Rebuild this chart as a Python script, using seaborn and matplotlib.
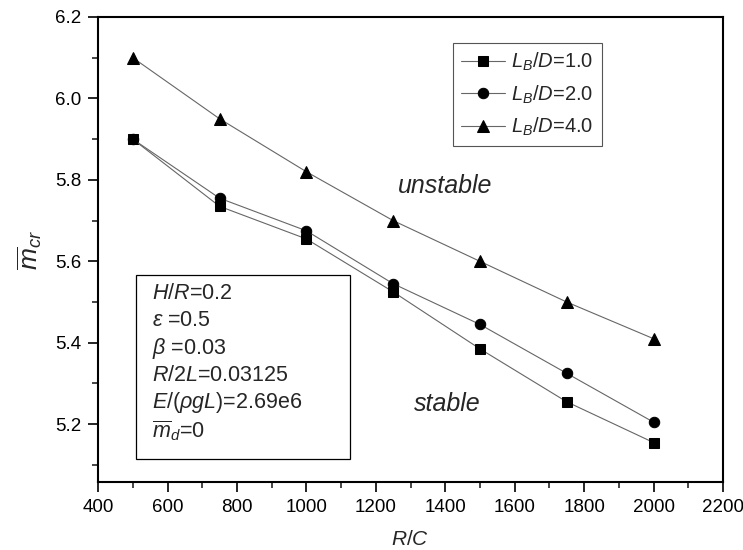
import matplotlib
matplotlib.use("Agg")
import matplotlib.pyplot as plt
import numpy as np
import pandas as pd
import seaborn as sns

# data
rc = [500, 750, 1000, 1250, 1500, 1750, 2000]
m_lb1 = [5.90, 5.735, 5.655, 5.525, 5.385, 5.255, 5.155]
m_lb2 = [5.90, 5.755, 5.675, 5.545, 5.445, 5.325, 5.205]
m_lb4 = [6.10, 5.95, 5.82, 5.70, 5.60, 5.50, 5.41]
labels = [r"$L_B/D$=1.0", r"$L_B/D$=2.0", r"$L_B/D$=4.0"]
markers = ["s", "o", "^"]

params = [r"$H/R$=0.2", r"$\varepsilon$ =0.5", r"$\beta$ =0.03", r"$R/2L$=0.03125",
          r"$E/(\rho gL)$=2.69e6", r"$\overline{m}_{d}$=0"]

sns.set_style("ticks")
plt.rcParams["font.family"] = ["Liberation Sans", "DejaVu Sans"]
plt.rcParams["mathtext.fontset"] = "custom"
plt.rcParams["mathtext.rm"] = "Liberation Sans"
plt.rcParams["mathtext.it"] = "Liberation Sans:italic"
plt.rcParams["mathtext.bf"] = "Liberation Sans:bold"

fig = plt.figure(figsize=(7.43, 5.5), dpi=100)
ax = fig.add_axes([0.132, 0.1236, 0.841, 0.8455])

sizes = {"s": 7, "o": 7.5, "^": 8.5}
for y, lab, mk in zip([m_lb1, m_lb2, m_lb4], labels, markers):
    df = pd.DataFrame({"R/C": rc, "m": y})
    sns.lineplot(data=df, x="R/C", y="m", ax=ax, color="#666666", lw=0.8,
                 marker=mk, markersize=sizes[mk],
                 markerfacecolor="black", markeredgecolor="black", label=lab)

ax.set_xlim(400, 2200)
ax.set_ylim(5.058, 6.2)
ax.set_xticks(np.arange(400, 2201, 200))
ax.set_xticks(np.arange(500, 2200, 200), minor=True)
ax.set_yticks([5.2, 5.4, 5.6, 5.8, 6.0, 6.2])
ax.set_yticks([5.1, 5.3, 5.5, 5.7, 5.9, 6.1], minor=True)
ax.set_yticklabels(["5.2", "5.4", "5.6", "5.8", "6.0", "6.2"])
ax.tick_params(which="major", direction="out", length=7, width=1.2, labelsize=13.5,
               colors="black", pad=5)
ax.tick_params(which="minor", direction="out", length=4.5, width=1.2)
for s in ax.spines.values():
    s.set_linewidth(1.5)
    s.set_color("black")

ax.set_xlabel(r"$R/C$", fontsize=15, labelpad=10)
ax.set_ylabel(r"$\overline{m}_{cr}$", fontsize=19, labelpad=8)

leg = ax.legend(loc="upper left", bbox_to_anchor=(0.568, 0.944), borderaxespad=0,
                fontsize=14.5, fancybox=False, edgecolor="#555555", framealpha=1,
                handlelength=2.2, handletextpad=0.3, labelspacing=0.5, borderpad=0.4)
leg.get_frame().set_linewidth(0.8)

ax.text(1400, 5.785, "unstable", fontsize=18, style="italic", ha="center", va="center")
ax.text(1405, 5.249, "stable", fontsize=18, style="italic", ha="center", va="center")

# parameter box
box = plt.Rectangle((0.061, 0.049), 0.342, 0.396, transform=ax.transAxes,
                    fill=False, edgecolor="black", lw=0.9)
ax.add_patch(box)
for i, t in enumerate(params):
    ax.text(0.086, 0.406 - i * 0.059, t, transform=ax.transAxes, fontsize=15.5,
            ha="left", va="center")

fig.savefig("out.png", dpi=100)
